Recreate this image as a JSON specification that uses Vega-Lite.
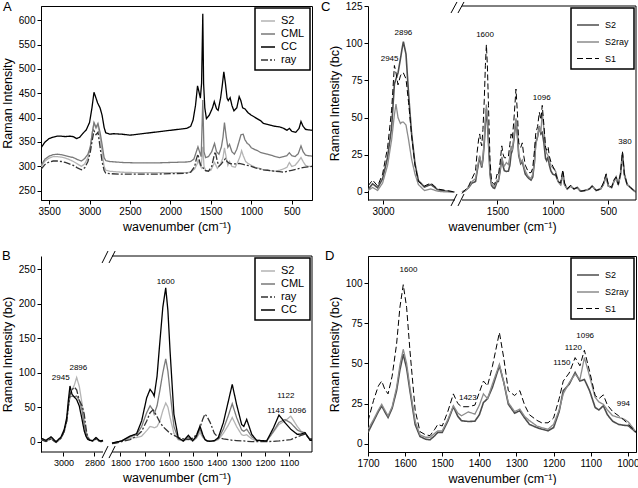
{
"$schema":"https://vega.github.io/schema/vega-lite/v6.json",
"background":"white",
"padding":{"left":0,"top":0,"right":0,"bottom":0},
"config":{
 "font":"Liberation Sans",
 "view":{"stroke":"black","strokeWidth":1},
 "axis":{"grid":false,"domainColor":"black","domainWidth":1,"tickColor":"black","tickSize":4,"labelColor":"black","labelFont":"Liberation Sans","labelFontSize":10,"labelPadding":2,"labelFlush":false,"labelOverlap":false,"titleColor":"black","titleFont":"Liberation Sans","titleFontSize":12.5,"titleFontWeight":"normal","titlePadding":4,"format":"d"},
 "legend":{"orient":"top-right","offset":2,"padding":5,"strokeColor":"black","strokeWidth":1.5,"fillColor":"white","symbolType":"stroke","labelColor":"black","rowPadding":0,"labelOffset":5},
 "title":{"fontSize":13,"fontWeight":"normal","anchor":"start","frame":"group","color":"black"}
},
"datasets":{
 "A":[
  {"s":"S2","w":3600,"v":299},{"s":"S2","w":3550,"v":311},{"s":"S2","w":3500,"v":317},{"s":"S2","w":3450,"v":320},{"s":"S2","w":3400,"v":320},{"s":"S2","w":3350,"v":319},{"s":"S2","w":3300,"v":317},{"s":"S2","w":3250,"v":314},{"s":"S2","w":3200,"v":310},{"s":"S2","w":3150,"v":305},{"s":"S2","w":3100,"v":300},{"s":"S2","w":3060,"v":305},{"s":"S2","w":3020,"v":318},{"s":"S2","w":2990,"v":340},{"s":"S2","w":2965,"v":370},{"s":"S2","w":2945,"v":388},{"s":"S2","w":2920,"v":378},{"s":"S2","w":2896,"v":385},{"s":"S2","w":2870,"v":360},{"s":"S2","w":2845,"v":330},{"s":"S2","w":2820,"v":300},{"s":"S2","w":2800,"v":292},{"s":"S2","w":2750,"v":290},{"s":"S2","w":2600,"v":288},{"s":"S2","w":2400,"v":287},{"s":"S2","w":2200,"v":287},{"s":"S2","w":2000,"v":287},{"s":"S2","w":1800,"v":287},{"s":"S2","w":1750,"v":288},{"s":"S2","w":1700,"v":295},{"s":"S2","w":1670,"v":305},{"s":"S2","w":1660,"v":312},{"s":"S2","w":1640,"v":305},{"s":"S2","w":1620,"v":298},{"s":"S2","w":1600,"v":340},{"s":"S2","w":1585,"v":300},{"s":"S2","w":1560,"v":290},{"s":"S2","w":1500,"v":292},{"s":"S2","w":1455,"v":308},{"s":"S2","w":1420,"v":296},{"s":"S2","w":1380,"v":305},{"s":"S2","w":1350,"v":318},{"s":"S2","w":1332,"v":338},{"s":"S2","w":1310,"v":318},{"s":"S2","w":1290,"v":302},{"s":"S2","w":1270,"v":310},{"s":"S2","w":1240,"v":300},{"s":"S2","w":1200,"v":298},{"s":"S2","w":1170,"v":308},{"s":"S2","w":1140,"v":320},{"s":"S2","w":1120,"v":332},{"s":"S2","w":1100,"v":322},{"s":"S2","w":1070,"v":310},{"s":"S2","w":1040,"v":306},{"s":"S2","w":1000,"v":302},{"s":"S2","w":950,"v":298},{"s":"S2","w":900,"v":296},{"s":"S2","w":850,"v":293},{"s":"S2","w":800,"v":292},{"s":"S2","w":700,"v":290},{"s":"S2","w":650,"v":292},{"s":"S2","w":600,"v":295},{"s":"S2","w":560,"v":298},{"s":"S2","w":530,"v":308},{"s":"S2","w":500,"v":300},{"s":"S2","w":460,"v":302},{"s":"S2","w":420,"v":310},{"s":"S2","w":386,"v":318},{"s":"S2","w":360,"v":310},{"s":"S2","w":330,"v":302},{"s":"S2","w":300,"v":300},{"s":"S2","w":250,"v":300},
  {"s":"CML","w":3600,"v":302},{"s":"CML","w":3550,"v":315},{"s":"CML","w":3500,"v":321},{"s":"CML","w":3450,"v":324},{"s":"CML","w":3400,"v":325},{"s":"CML","w":3350,"v":324},{"s":"CML","w":3300,"v":322},{"s":"CML","w":3250,"v":320},{"s":"CML","w":3200,"v":318},{"s":"CML","w":3150,"v":314},{"s":"CML","w":3100,"v":311},{"s":"CML","w":3060,"v":316},{"s":"CML","w":3020,"v":325},{"s":"CML","w":2990,"v":340},{"s":"CML","w":2965,"v":370},{"s":"CML","w":2945,"v":390},{"s":"CML","w":2920,"v":380},{"s":"CML","w":2896,"v":388},{"s":"CML","w":2870,"v":370},{"s":"CML","w":2845,"v":345},{"s":"CML","w":2820,"v":318},{"s":"CML","w":2800,"v":312},{"s":"CML","w":2750,"v":310},{"s":"CML","w":2600,"v":308},{"s":"CML","w":2400,"v":307},{"s":"CML","w":2200,"v":307},{"s":"CML","w":2000,"v":308},{"s":"CML","w":1800,"v":309},{"s":"CML","w":1750,"v":310},{"s":"CML","w":1710,"v":315},{"s":"CML","w":1680,"v":330},{"s":"CML","w":1660,"v":340},{"s":"CML","w":1640,"v":330},{"s":"CML","w":1620,"v":320},{"s":"CML","w":1600,"v":436},{"s":"CML","w":1585,"v":330},{"s":"CML","w":1565,"v":318},{"s":"CML","w":1530,"v":320},{"s":"CML","w":1490,"v":330},{"s":"CML","w":1455,"v":347},{"s":"CML","w":1430,"v":330},{"s":"CML","w":1400,"v":325},{"s":"CML","w":1370,"v":340},{"s":"CML","w":1350,"v":360},{"s":"CML","w":1332,"v":390},{"s":"CML","w":1310,"v":360},{"s":"CML","w":1290,"v":339},{"s":"CML","w":1270,"v":345},{"s":"CML","w":1240,"v":330},{"s":"CML","w":1210,"v":325},{"s":"CML","w":1180,"v":335},{"s":"CML","w":1150,"v":352},{"s":"CML","w":1128,"v":365},{"s":"CML","w":1100,"v":366},{"s":"CML","w":1080,"v":355},{"s":"CML","w":1050,"v":347},{"s":"CML","w":1030,"v":345},{"s":"CML","w":1000,"v":338},{"s":"CML","w":950,"v":334},{"s":"CML","w":920,"v":332},{"s":"CML","w":880,"v":328},{"s":"CML","w":800,"v":325},{"s":"CML","w":700,"v":320},{"s":"CML","w":650,"v":318},{"s":"CML","w":600,"v":320},{"s":"CML","w":560,"v":322},{"s":"CML","w":530,"v":328},{"s":"CML","w":500,"v":322},{"s":"CML","w":460,"v":320},{"s":"CML","w":420,"v":326},{"s":"CML","w":386,"v":342},{"s":"CML","w":360,"v":330},{"s":"CML","w":330,"v":323},{"s":"CML","w":300,"v":322},{"s":"CML","w":250,"v":321},
  {"s":"ray","w":3600,"v":294},{"s":"ray","w":3550,"v":304},{"s":"ray","w":3500,"v":309},{"s":"ray","w":3450,"v":311},{"s":"ray","w":3400,"v":311},{"s":"ray","w":3350,"v":310},{"s":"ray","w":3300,"v":308},{"s":"ray","w":3250,"v":305},{"s":"ray","w":3200,"v":302},{"s":"ray","w":3150,"v":297},{"s":"ray","w":3100,"v":293},{"s":"ray","w":3060,"v":297},{"s":"ray","w":3020,"v":310},{"s":"ray","w":2990,"v":330},{"s":"ray","w":2965,"v":355},{"s":"ray","w":2945,"v":373},{"s":"ray","w":2920,"v":365},{"s":"ray","w":2896,"v":370},{"s":"ray","w":2870,"v":340},{"s":"ray","w":2845,"v":310},{"s":"ray","w":2820,"v":292},{"s":"ray","w":2800,"v":286},{"s":"ray","w":2750,"v":285},{"s":"ray","w":2600,"v":284},{"s":"ray","w":2400,"v":284},{"s":"ray","w":2200,"v":284},{"s":"ray","w":2000,"v":285},{"s":"ray","w":1800,"v":286},{"s":"ray","w":1750,"v":288},{"s":"ray","w":1700,"v":300},{"s":"ray","w":1680,"v":315},{"s":"ray","w":1660,"v":325},{"s":"ray","w":1640,"v":310},{"s":"ray","w":1620,"v":300},{"s":"ray","w":1600,"v":298},{"s":"ray","w":1580,"v":292},{"s":"ray","w":1530,"v":290},{"s":"ray","w":1490,"v":300},{"s":"ray","w":1460,"v":322},{"s":"ray","w":1445,"v":330},{"s":"ray","w":1420,"v":310},{"s":"ray","w":1400,"v":300},{"s":"ray","w":1370,"v":305},{"s":"ray","w":1340,"v":312},{"s":"ray","w":1320,"v":316},{"s":"ray","w":1300,"v":310},{"s":"ray","w":1270,"v":306},{"s":"ray","w":1240,"v":305},{"s":"ray","w":1200,"v":305},{"s":"ray","w":1150,"v":306},{"s":"ray","w":1100,"v":304},{"s":"ray","w":1050,"v":302},{"s":"ray","w":1000,"v":300},{"s":"ray","w":950,"v":297},{"s":"ray","w":900,"v":295},{"s":"ray","w":850,"v":293},{"s":"ray","w":800,"v":292},{"s":"ray","w":700,"v":290},{"s":"ray","w":650,"v":289},{"s":"ray","w":600,"v":288},{"s":"ray","w":550,"v":290},{"s":"ray","w":500,"v":292},{"s":"ray","w":450,"v":294},{"s":"ray","w":400,"v":296},{"s":"ray","w":350,"v":298},{"s":"ray","w":300,"v":299},{"s":"ray","w":250,"v":300},
  {"s":"CC","w":3600,"v":338},{"s":"CC","w":3550,"v":350},{"s":"CC","w":3500,"v":357},{"s":"CC","w":3450,"v":360},{"s":"CC","w":3400,"v":362},{"s":"CC","w":3350,"v":362},{"s":"CC","w":3300,"v":361},{"s":"CC","w":3250,"v":362},{"s":"CC","w":3200,"v":361},{"s":"CC","w":3160,"v":357},{"s":"CC","w":3120,"v":360},{"s":"CC","w":3080,"v":368},{"s":"CC","w":3040,"v":375},{"s":"CC","w":3000,"v":390},{"s":"CC","w":2970,"v":420},{"s":"CC","w":2945,"v":452},{"s":"CC","w":2920,"v":440},{"s":"CC","w":2900,"v":430},{"s":"CC","w":2870,"v":420},{"s":"CC","w":2845,"v":405},{"s":"CC","w":2820,"v":380},{"s":"CC","w":2800,"v":369},{"s":"CC","w":2750,"v":366},{"s":"CC","w":2700,"v":367},{"s":"CC","w":2600,"v":366},{"s":"CC","w":2500,"v":364},{"s":"CC","w":2400,"v":366},{"s":"CC","w":2300,"v":368},{"s":"CC","w":2200,"v":370},{"s":"CC","w":2100,"v":372},{"s":"CC","w":2000,"v":374},{"s":"CC","w":1900,"v":376},{"s":"CC","w":1800,"v":378},{"s":"CC","w":1750,"v":382},{"s":"CC","w":1720,"v":395},{"s":"CC","w":1690,"v":425},{"s":"CC","w":1665,"v":465},{"s":"CC","w":1650,"v":455},{"s":"CC","w":1630,"v":440},{"s":"CC","w":1615,"v":470},{"s":"CC","w":1600,"v":613},{"s":"CC","w":1590,"v":470},{"s":"CC","w":1575,"v":420},{"s":"CC","w":1555,"v":398},{"s":"CC","w":1520,"v":405},{"s":"CC","w":1480,"v":420},{"s":"CC","w":1458,"v":433},{"s":"CC","w":1430,"v":418},{"s":"CC","w":1410,"v":415},{"s":"CC","w":1380,"v":440},{"s":"CC","w":1360,"v":465},{"s":"CC","w":1340,"v":494},{"s":"CC","w":1320,"v":470},{"s":"CC","w":1300,"v":440},{"s":"CC","w":1285,"v":435},{"s":"CC","w":1262,"v":441},{"s":"CC","w":1240,"v":425},{"s":"CC","w":1215,"v":414},{"s":"CC","w":1180,"v":420},{"s":"CC","w":1150,"v":443},{"s":"CC","w":1130,"v":435},{"s":"CC","w":1107,"v":420},{"s":"CC","w":1080,"v":418},{"s":"CC","w":1040,"v":410},{"s":"CC","w":1000,"v":405},{"s":"CC","w":950,"v":400},{"s":"CC","w":920,"v":397},{"s":"CC","w":880,"v":393},{"s":"CC","w":850,"v":388},{"s":"CC","w":800,"v":386},{"s":"CC","w":750,"v":384},{"s":"CC","w":700,"v":382},{"s":"CC","w":650,"v":381},{"s":"CC","w":600,"v":378},{"s":"CC","w":560,"v":374},{"s":"CC","w":530,"v":378},{"s":"CC","w":500,"v":372},{"s":"CC","w":450,"v":370},{"s":"CC","w":410,"v":378},{"s":"CC","w":386,"v":392},{"s":"CC","w":360,"v":382},{"s":"CC","w":330,"v":376},{"s":"CC","w":300,"v":375},{"s":"CC","w":250,"v":374}
 ],
 "B":[
  {"g":1,"w":3145,"S2":2,"CML":3,"ray":3,"CC":5},{"g":1,"w":3113,"S2":1,"CML":1,"ray":0,"CC":2},{"g":1,"w":3080,"S2":4,"CML":5,"ray":4,"CC":7},{"g":1,"w":3048,"S2":-1,"CML":-1,"ray":-1,"CC":0},{"g":1,"w":3016,"S2":5,"CML":5,"ray":5,"CC":6.7},{"g":1,"w":2995,"S2":15,"CML":15,"ray":15,"CC":17.8},{"g":1,"w":2979,"S2":30,"CML":30,"ray":30,"CC":34.7},{"g":1,"w":2969,"S2":50,"CML":50,"ray":50,"CC":59},{"g":1,"w":2958,"S2":70,"CML":65,"ray":68,"CC":80.6},{"g":1,"w":2945,"S2":75,"CML":66,"ray":75,"CC":68.6},{"g":1,"w":2930,"S2":82,"CML":65,"ray":79,"CC":64.6},{"g":1,"w":2915,"S2":93,"CML":66,"ray":75,"CC":61},{"g":1,"w":2898,"S2":80,"CML":60,"ray":60,"CC":51.7},{"g":1,"w":2880,"S2":55,"CML":45,"ray":52,"CC":32},{"g":1,"w":2866,"S2":30,"CML":25,"ray":40,"CC":15.4},{"g":1,"w":2855,"S2":15,"CML":12,"ray":20,"CC":8},{"g":1,"w":2844,"S2":8,"CML":5,"ray":6,"CC":3.4},{"g":1,"w":2830,"S2":3,"CML":2,"ray":2,"CC":2},{"g":1,"w":2812,"S2":1,"CML":1,"ray":1,"CC":1.5},{"g":1,"w":2790,"S2":4,"CML":4,"ray":4,"CC":6},{"g":1,"w":2770,"S2":1,"CML":1,"ray":1,"CC":2},{"g":1,"w":2758,"S2":0,"CML":0,"ray":0,"CC":1},{"g":1,"w":2745,"S2":1,"CML":1,"ray":1,"CC":2},
  {"g":2,"w":1835,"S2":-2,"CML":-2,"ray":-3,"CC":-2},{"g":2,"w":1818,"S2":-1,"CML":-1,"ray":-2,"CC":-0.6},{"g":2,"w":1795,"S2":1,"CML":1,"ray":0,"CC":1},{"g":2,"w":1760,"S2":5,"CML":7,"ray":3,"CC":8},{"g":2,"w":1733,"S2":6,"CML":10,"ray":8,"CC":11.5},{"g":2,"w":1712,"S2":8,"CML":22,"ray":15,"CC":30},{"g":2,"w":1691,"S2":16,"CML":42,"ray":30,"CC":63.6},{"g":2,"w":1677,"S2":22,"CML":52,"ray":42,"CC":75.8},{"g":2,"w":1665,"S2":21,"CML":46,"ray":46,"CC":70},{"g":2,"w":1660,"S2":20,"CML":40,"ray":44,"CC":66},{"g":2,"w":1648,"S2":22,"CML":52,"ray":36,"CC":95},{"g":2,"w":1636,"S2":30,"CML":75,"ray":28,"CC":146},{"g":2,"w":1624,"S2":45,"CML":100,"ray":22,"CC":195},{"g":2,"w":1612,"S2":56,"CML":120,"ray":18,"CC":223},{"g":2,"w":1603,"S2":50,"CML":102,"ray":15,"CC":190},{"g":2,"w":1594,"S2":35,"CML":72,"ray":12,"CC":131},{"g":2,"w":1578,"S2":12,"CML":22,"ray":9,"CC":39.6},{"g":2,"w":1560,"S2":3,"CML":4,"ray":6,"CC":5.7},{"g":2,"w":1539,"S2":1,"CML":1,"ray":4,"CC":1},{"g":2,"w":1518,"S2":4,"CML":6,"ray":3,"CC":9.1},{"g":2,"w":1500,"S2":1,"CML":1,"ray":5,"CC":1.5},{"g":2,"w":1485,"S2":5,"CML":6,"ray":10,"CC":8},{"g":2,"w":1470,"S2":13,"CML":18,"ray":20,"CC":22.6},{"g":2,"w":1458,"S2":6,"CML":8,"ray":33,"CC":10},{"g":2,"w":1449,"S2":3,"CML":3,"ray":40,"CC":3},{"g":2,"w":1440,"S2":1,"CML":1,"ray":36,"CC":1},{"g":2,"w":1428,"S2":0.5,"CML":0.5,"ray":28,"CC":0.5},{"g":2,"w":1410,"S2":1,"CML":1,"ray":12,"CC":1.5},{"g":2,"w":1394,"S2":3,"CML":4,"ray":6,"CC":5.7},{"g":2,"w":1373,"S2":12,"CML":18,"ray":4,"CC":27.4},{"g":2,"w":1352,"S2":24,"CML":38,"ray":3,"CC":58.8},{"g":2,"w":1336,"S2":35,"CML":55,"ray":2,"CC":83},{"g":2,"w":1318,"S2":22,"CML":35,"ray":1.5,"CC":54},{"g":2,"w":1297,"S2":10,"CML":17,"ray":1,"CC":25},{"g":2,"w":1288,"S2":9,"CML":15,"ray":1,"CC":22},{"g":2,"w":1276,"S2":10,"CML":18,"ray":0.5,"CC":32.3},{"g":2,"w":1255,"S2":4,"CML":7,"ray":0,"CC":10.6},{"g":2,"w":1235,"S2":1,"CML":2,"ray":0,"CC":2},{"g":2,"w":1193,"S2":1,"CML":1,"ray":0,"CC":1},{"g":2,"w":1165,"S2":14,"CML":15,"ray":0.5,"CC":20},{"g":2,"w":1142,"S2":25,"CML":28,"ray":1,"CC":38.6},{"g":2,"w":1117,"S2":30,"CML":32,"ray":2,"CC":27.4},{"g":2,"w":1093,"S2":37,"CML":27,"ray":3,"CC":18},{"g":2,"w":1066,"S2":22,"CML":17,"ray":7,"CC":10.6},{"g":2,"w":1050,"S2":15,"CML":14,"ray":9,"CC":11},{"g":2,"w":1034,"S2":12,"CML":13,"ray":11,"CC":13},{"g":2,"w":1013,"S2":3,"CML":3,"ray":4,"CC":2},{"g":2,"w":1005,"S2":3,"CML":3,"ray":4,"CC":2}
 ],
 "C":[
  {"g":1,"w":3075,"S2":1.5,"S2ray":1,"S1":4},{"g":1,"w":3052,"S2":5.5,"S2ray":3,"S1":8},{"g":1,"w":3027,"S2":2.8,"S2ray":1,"S1":4},{"g":1,"w":3002,"S2":8.9,"S2ray":6,"S1":12},{"g":1,"w":2977,"S2":23.3,"S2ray":18,"S1":30},{"g":1,"w":2957,"S2":43.5,"S2ray":35,"S1":55},{"g":1,"w":2943,"S2":72.5,"S2ray":52,"S1":85},{"g":1,"w":2935,"S2":76,"S2ray":59,"S1":80},{"g":1,"w":2925,"S2":80,"S2ray":50,"S1":72},{"g":1,"w":2913,"S2":89.3,"S2ray":46,"S1":78},{"g":1,"w":2905,"S2":96,"S2ray":47,"S1":80},{"g":1,"w":2898,"S2":101,"S2ray":47,"S1":80},{"g":1,"w":2885,"S2":92.6,"S2ray":45,"S1":76},{"g":1,"w":2872,"S2":65.8,"S2ray":35,"S1":60},{"g":1,"w":2857,"S2":39,"S2ray":22,"S1":38},{"g":1,"w":2840,"S2":19,"S2ray":12,"S1":18},{"g":1,"w":2823,"S2":7.7,"S2ray":5,"S1":7},{"g":1,"w":2793,"S2":3.3,"S2ray":1,"S1":4},{"g":1,"w":2760,"S2":5,"S2ray":2,"S1":6},{"g":1,"w":2727,"S2":1.5,"S2ray":0.5,"S1":2},{"g":1,"w":2685,"S2":0.6,"S2ray":0,"S1":1},{"g":1,"w":2643,"S2":0,"S2ray":0,"S1":0},
  {"g":2,"w":1820,"S2":0,"S2ray":0,"S1":-1},{"g":2,"w":1790,"S2":1,"S2ray":1,"S1":1.5},{"g":2,"w":1760,"S2":3,"S2ray":3,"S1":4},{"g":2,"w":1730,"S2":6,"S2ray":7,"S1":9},{"g":2,"w":1698,"S2":7,"S2ray":9,"S1":14},{"g":2,"w":1683,"S2":14,"S2ray":15,"S1":27},{"g":2,"w":1669,"S2":20,"S2ray":21,"S1":36},{"g":2,"w":1660,"S2":23.5,"S2ray":24.5,"S1":39},{"g":2,"w":1652,"S2":20,"S2ray":21,"S1":34},{"g":2,"w":1642,"S2":16.3,"S2ray":17.4,"S1":31},{"g":2,"w":1631,"S2":22,"S2ray":23,"S1":42},{"g":2,"w":1619,"S2":33,"S2ray":35,"S1":62},{"g":2,"w":1609,"S2":46,"S2ray":49,"S1":85},{"g":2,"w":1600,"S2":55.7,"S2ray":58.8,"S1":99},{"g":2,"w":1591,"S2":47,"S2ray":50,"S1":85},{"g":2,"w":1581,"S2":33,"S2ray":35,"S1":58},{"g":2,"w":1567,"S2":12,"S2ray":14,"S1":21},{"g":2,"w":1554,"S2":4.5,"S2ray":5.5,"S1":7.5},{"g":2,"w":1538,"S2":2.8,"S2ray":4,"S1":5.5},{"g":2,"w":1526,"S2":2.4,"S2ray":4,"S1":5},{"g":2,"w":1512,"S2":5,"S2ray":6.5,"S1":9},{"g":2,"w":1504,"S2":7,"S2ray":8,"S1":12},{"g":2,"w":1492,"S2":7,"S2ray":8,"S1":11},{"g":2,"w":1476,"S2":14,"S2ray":15,"S1":20},{"g":2,"w":1461,"S2":23,"S2ray":23.6,"S1":31},{"g":2,"w":1448,"S2":17,"S2ray":19,"S1":25},{"g":2,"w":1438,"S2":14.3,"S2ray":17.4,"S1":23},{"g":2,"w":1419,"S2":13.8,"S2ray":19.8,"S1":23},{"g":2,"w":1401,"S2":14,"S2ray":18.4,"S1":24},{"g":2,"w":1388,"S2":18,"S2ray":24,"S1":32},{"g":2,"w":1377,"S2":25.6,"S2ray":31,"S1":39},{"g":2,"w":1366,"S2":28,"S2ray":28,"S1":36},{"g":2,"w":1352,"S2":35,"S2ray":37,"S1":48},{"g":2,"w":1333,"S2":48.5,"S2ray":49.5,"S1":69.2},{"g":2,"w":1320,"S2":38,"S2ray":38,"S1":53},{"g":2,"w":1308,"S2":24.6,"S2ray":25.6,"S1":33},{"g":2,"w":1290,"S2":19,"S2ray":20,"S1":30},{"g":2,"w":1276,"S2":20.5,"S2ray":21.5,"S1":33},{"g":2,"w":1262,"S2":16,"S2ray":17,"S1":24},{"g":2,"w":1249,"S2":12,"S2ray":14.3,"S1":18},{"g":2,"w":1228,"S2":10,"S2ray":11,"S1":14.5},{"g":2,"w":1215,"S2":9,"S2ray":10,"S1":13},{"g":2,"w":1197,"S2":8,"S2ray":9,"S1":13},{"g":2,"w":1182,"S2":10,"S2ray":12,"S1":16},{"g":2,"w":1166,"S2":20,"S2ray":21,"S1":28},{"g":2,"w":1155,"S2":33,"S2ray":31,"S1":39},{"g":2,"w":1138,"S2":37,"S2ray":38,"S1":44},{"g":2,"w":1122,"S2":44.3,"S2ray":43.3,"S1":53.6},{"g":2,"w":1108,"S2":39,"S2ray":40,"S1":48.5},{"g":2,"w":1096,"S2":40,"S2ray":53.6,"S1":58.2},{"g":2,"w":1081,"S2":33,"S2ray":42,"S1":45},{"g":2,"w":1066,"S2":22.5,"S2ray":28.8,"S1":30},{"g":2,"w":1056,"S2":21,"S2ray":26,"S1":28},{"g":2,"w":1043,"S2":23.6,"S2ray":24.5,"S1":30.4},{"g":2,"w":1032,"S2":18,"S2ray":21,"S1":24},{"g":2,"w":1017,"S2":14,"S2ray":17.4,"S1":20},{"g":2,"w":1001,"S2":12,"S2ray":16.3,"S1":17.4},{"g":2,"w":987,"S2":11.5,"S2ray":15.5,"S1":15},{"g":2,"w":974,"S2":11.2,"S2ray":13.6,"S1":12.2},{"g":2,"w":960,"S2":8.5,"S2ray":9.5,"S1":9},{"g":2,"w":952,"S2":7,"S2ray":7,"S1":7},{"g":2,"w":930,"S2":5,"S2ray":5,"S1":6},{"g":2,"w":910,"S2":13,"S2ray":12,"S1":15},{"g":2,"w":895,"S2":5,"S2ray":5,"S1":6},{"g":2,"w":870,"S2":2,"S2ray":2,"S1":2},{"g":2,"w":840,"S2":4,"S2ray":4,"S1":4.5},{"g":2,"w":810,"S2":2,"S2ray":2,"S1":2},{"g":2,"w":780,"S2":3,"S2ray":3,"S1":3},{"g":2,"w":750,"S2":0.5,"S2ray":0.5,"S1":0.5},{"g":2,"w":710,"S2":1,"S2ray":1,"S1":1},{"g":2,"w":670,"S2":2,"S2ray":2,"S1":2},{"g":2,"w":645,"S2":4,"S2ray":4,"S1":4},{"g":2,"w":610,"S2":1,"S2ray":1,"S1":1},{"g":2,"w":570,"S2":2,"S2ray":2,"S1":2},{"g":2,"w":545,"S2":5,"S2ray":5,"S1":6},{"g":2,"w":520,"S2":11,"S2ray":10,"S1":12},{"g":2,"w":500,"S2":4,"S2ray":4,"S1":5},{"g":2,"w":470,"S2":3,"S2ray":3,"S1":3},{"g":2,"w":450,"S2":7,"S2ray":7,"S1":8},{"g":2,"w":430,"S2":10,"S2ray":9,"S1":10},{"g":2,"w":410,"S2":5,"S2ray":5,"S1":5},{"g":2,"w":390,"S2":12,"S2ray":11,"S1":12},{"g":2,"w":372,"S2":26,"S2ray":25,"S1":27},{"g":2,"w":355,"S2":12,"S2ray":11,"S1":12},{"g":2,"w":330,"S2":5,"S2ray":5,"S1":5},{"g":2,"w":300,"S2":3,"S2ray":3,"S1":3},{"g":2,"w":270,"S2":1,"S2ray":1,"S1":1},{"g":2,"w":252,"S2":0,"S2ray":0,"S1":0}
 ],
 "D":[
  {"w":1700,"S2":7,"S2ray":9,"S1":14},{"w":1685,"S2":14,"S2ray":15,"S1":27},{"w":1672,"S2":20,"S2ray":21,"S1":36},{"w":1663,"S2":23.5,"S2ray":24.5,"S1":39},{"w":1655,"S2":20,"S2ray":21,"S1":34},{"w":1646,"S2":16.3,"S2ray":17.4,"S1":31},{"w":1635,"S2":22,"S2ray":23,"S1":42},{"w":1623,"S2":33,"S2ray":35,"S1":62},{"w":1614,"S2":46,"S2ray":49,"S1":85},{"w":1605,"S2":55.7,"S2ray":58.8,"S1":99},{"w":1596,"S2":47,"S2ray":50,"S1":85},{"w":1587,"S2":33,"S2ray":35,"S1":58},{"w":1573,"S2":12,"S2ray":14,"S1":21},{"w":1560,"S2":4.5,"S2ray":5.5,"S1":7.5},{"w":1545,"S2":2.8,"S2ray":4,"S1":5.5},{"w":1533,"S2":2.4,"S2ray":4,"S1":5},{"w":1520,"S2":5,"S2ray":6.5,"S1":9},{"w":1512,"S2":7,"S2ray":8,"S1":12},{"w":1500,"S2":7,"S2ray":8,"S1":11},{"w":1485,"S2":14,"S2ray":15,"S1":20},{"w":1470,"S2":23,"S2ray":23.6,"S1":31},{"w":1458,"S2":17,"S2ray":19,"S1":25},{"w":1448,"S2":14.3,"S2ray":17.4,"S1":23},{"w":1430,"S2":13.8,"S2ray":19.8,"S1":23},{"w":1412,"S2":14,"S2ray":18.4,"S1":24},{"w":1400,"S2":18,"S2ray":24,"S1":32},{"w":1389,"S2":25.6,"S2ray":31,"S1":39},{"w":1378,"S2":28,"S2ray":28,"S1":36},{"w":1365,"S2":35,"S2ray":37,"S1":48},{"w":1346,"S2":48.5,"S2ray":49.5,"S1":69.2},{"w":1334,"S2":38,"S2ray":38,"S1":53},{"w":1322,"S2":24.6,"S2ray":25.6,"S1":33},{"w":1305,"S2":19,"S2ray":20,"S1":30},{"w":1291,"S2":20.5,"S2ray":21.5,"S1":33},{"w":1278,"S2":16,"S2ray":17,"S1":24},{"w":1265,"S2":12,"S2ray":14.3,"S1":18},{"w":1245,"S2":10,"S2ray":11,"S1":14.5},{"w":1232,"S2":9,"S2ray":10,"S1":13},{"w":1215,"S2":8,"S2ray":9,"S1":13},{"w":1200,"S2":10,"S2ray":12,"S1":16},{"w":1185,"S2":20,"S2ray":21,"S1":28},{"w":1174,"S2":33,"S2ray":31,"S1":39},{"w":1158,"S2":37,"S2ray":38,"S1":44},{"w":1142,"S2":44.3,"S2ray":43.3,"S1":53.6},{"w":1129,"S2":39,"S2ray":40,"S1":48.5},{"w":1117,"S2":40,"S2ray":53.6,"S1":58.2},{"w":1103,"S2":33,"S2ray":42,"S1":45},{"w":1088,"S2":22.5,"S2ray":28.8,"S1":30},{"w":1078,"S2":21,"S2ray":26,"S1":28},{"w":1066,"S2":23.6,"S2ray":24.5,"S1":30.4},{"w":1055,"S2":18,"S2ray":21,"S1":24},{"w":1041,"S2":14,"S2ray":17.4,"S1":20},{"w":1025,"S2":12,"S2ray":16.3,"S1":17.4},{"w":1012,"S2":11.5,"S2ray":15.5,"S1":15},{"w":999,"S2":11.2,"S2ray":13.6,"S1":12.2},{"w":985,"S2":8.5,"S2ray":9.5,"S1":9},{"w":978,"S2":7,"S2ray":7,"S1":7}
 ],
 "annB":[{"w":3018,"v":92.6,"t":"2945"},{"w":2904,"v":107,"t":"2896"},{"w":1612,"v":231.8,"t":"1600"},{"w":1114,"v":66,"t":"1122"},{"w":1155,"v":44,"t":"1143"},{"w":1066,"v":44,"t":"1096"}],
 "annC":[{"w":2967,"v":89.3,"t":"2945"},{"w":2898,"v":107,"t":"2896"},{"w":1612,"v":105.4,"t":"1600"},{"w":1101,"v":63,"t":"1096"},{"w":349,"v":33.4,"t":"380"}],
 "annD":[{"w":1591,"v":108,"t":"1600"},{"w":1431,"v":28.7,"t":"1423"},{"w":1178,"v":50.5,"t":"1150"},{"w":1147,"v":59.8,"t":"1120"},{"w":1115,"v":67,"t":"1096"},{"w":1012,"v":25,"t":"994"}]
},
"columns":2,
"spacing":{"row":56,"column":56},
"bounds":"flush",
"resolve":{"scale":{"x":"independent","y":"independent","color":"independent","strokeDash":"independent","strokeWidth":"independent"},"legend":{"color":"independent","strokeDash":"independent","strokeWidth":"independent"}},
"concat":[
 {
  "title":{"text":"A","dx":-38,"offset":-8},
  "width":271,"height":194,
  "data":{"name":"A"},
  "mark":{"type":"line","clip":true},
  "encoding":{
   "x":{"field":"w","type":"quantitative","scale":{"domain":[3600,250],"nice":false,"zero":false},"axis":{"values":[3500,3000,2500,2000,1500,1000,500],"title":"wavenumber (cm⁻¹)"}},
   "y":{"field":"v","type":"quantitative","scale":{"domain":[231,629],"nice":false,"zero":false},"axis":{"values":[250,300,350,400,450,500,550,600],"title":"Raman Intensity"}},
   "color":{"field":"s","type":"nominal","scale":{"domain":["S2","CML","CC","ray"],"range":["#b4b4b4","#7a7a7a","#000000","#333333"]},"legend":{"title":null,"symbolSize":196,"labelFontSize":11}},
   "strokeDash":{"field":"s","type":"nominal","scale":{"domain":["S2","CML","CC","ray"],"range":[[1,0],[1,0],[1,0],[7,2,2,2]]},"legend":{"title":null,"symbolSize":196,"labelFontSize":11}},
   "strokeWidth":{"field":"s","type":"nominal","scale":{"domain":["S2","CML","CC","ray"],"range":[1.3,1.3,1.5,1.2]},"legend":{"title":null,"symbolSize":196,"labelFontSize":11}}
  }
 },
 {
  "title":{"text":"C","dx":-47,"offset":-13},
  "width":268,"height":194,
  "view":{"stroke":null},
  "layer":[
   {"data":{"name":"C"},"transform":[{"fold":["S2","S2ray","S1"],"as":["s","v"]}],
    "mark":{"type":"line","clip":true},
    "encoding":{
     "x":{"field":"w","type":"quantitative","scale":{"domain":[3075,2640,1820,250],"range":[0,87,94,268],"nice":false,"zero":false},"axis":{"values":[3000,1500,1000,500],"title":"wavenumber (cm⁻¹)","domain":false}},
     "y":{"field":"v","type":"quantitative","scale":{"domain":[-5.4,125],"nice":false,"zero":false},"axis":{"values":[0,25,50,75,100,125],"title":"Raman Intensity (bc)"}},
     "detail":{"field":"g","type":"nominal"},
     "color":{"field":"s","type":"nominal","scale":{"domain":["S2","S2ray","S1"],"range":["#4d4d4d","#8c8c8c","#000000"]},"legend":{"title":null,"symbolSize":484,"labelFontSize":9}},
     "strokeDash":{"field":"s","type":"nominal","scale":{"domain":["S2","S2ray","S1"],"range":[[1,0],[1,0],[6,3]]},"legend":{"title":null,"symbolSize":484,"labelFontSize":9}},
     "strokeWidth":{"field":"s","type":"nominal","scale":{"domain":["S2","S2ray","S1"],"range":[1.6,1,1.3]},"legend":{"title":null,"symbolSize":484,"labelFontSize":9}}
    }},
   {"data":{"name":"annC"},"mark":{"type":"text","fontSize":8,"color":"black","align":"center","baseline":"middle"},"encoding":{"x":{"field":"w","type":"quantitative","axis":{"values":[3000,1500,1000,500],"title":"wavenumber (cm⁻¹)","domain":false}},"y":{"field":"v","type":"quantitative","axis":{"values":[0,25,50,75,100,125],"title":"Raman Intensity (bc)"}},"text":{"field":"t"}}},
   {"data":{"values":[{}]},"mark":{"type":"rule","color":"black","strokeWidth":1},"encoding":{"x":{"datum":3075,"axis":{"values":[3000,1500,1000,500],"title":"wavenumber (cm⁻¹)","domain":false}},"x2":{"datum":2640},"y":{"datum":-5.4,"axis":{"values":[0,25,50,75,100,125],"title":"Raman Intensity (bc)"}}}},
   {"data":{"values":[{}]},"mark":{"type":"rule","color":"black","strokeWidth":1},"encoding":{"x":{"datum":1820,"axis":{"values":[3000,1500,1000,500],"title":"wavenumber (cm⁻¹)","domain":false}},"x2":{"datum":250},"y":{"datum":-5.4,"axis":{"values":[0,25,50,75,100,125],"title":"Raman Intensity (bc)"}}}},
   {"data":{"values":[{}]},"mark":{"type":"rule","color":"black","strokeWidth":1},"encoding":{"x":{"datum":1820,"axis":{"values":[3000,1500,1000,500],"title":"wavenumber (cm⁻¹)","domain":false}},"x2":{"datum":250},"y":{"datum":125,"axis":{"values":[0,25,50,75,100,125],"title":"Raman Intensity (bc)"}}}},
   {"data":{"values":[{}]},"mark":{"type":"rule","color":"black","strokeWidth":1},"encoding":{"x":{"datum":250,"axis":{"values":[3000,1500,1000,500],"title":"wavenumber (cm⁻¹)","domain":false}},"y":{"datum":-5.4,"axis":{"values":[0,25,50,75,100,125],"title":"Raman Intensity (bc)"}},"y2":{"datum":125}}},
   {"data":{"values":[{}]},"mark":{"type":"rule","color":"black","strokeWidth":1},"encoding":{"x":{"datum":2660,"axis":{"values":[3000,1500,1000,500],"title":"wavenumber (cm⁻¹)","domain":false}},"x2":{"datum":2406},"y":{"datum":120.3,"axis":{"values":[0,25,50,75,100,125],"title":"Raman Intensity (bc)"}},"y2":{"datum":127.7}}},
   {"data":{"values":[{}]},"mark":{"type":"rule","color":"black","strokeWidth":1},"encoding":{"x":{"datum":2289,"axis":{"values":[3000,1500,1000,500],"title":"wavenumber (cm⁻¹)","domain":false}},"x2":{"datum":1802},"y":{"datum":120.3,"axis":{"values":[0,25,50,75,100,125],"title":"Raman Intensity (bc)"}},"y2":{"datum":127.7}}},
   {"data":{"values":[{}]},"mark":{"type":"rule","color":"black","strokeWidth":1},"encoding":{"x":{"datum":2660,"axis":{"values":[3000,1500,1000,500],"title":"wavenumber (cm⁻¹)","domain":false}},"x2":{"datum":2406},"y":{"datum":-9.4,"axis":{"values":[0,25,50,75,100,125],"title":"Raman Intensity (bc)"}},"y2":{"datum":-1.4}}},
   {"data":{"values":[{}]},"mark":{"type":"rule","color":"black","strokeWidth":1},"encoding":{"x":{"datum":2289,"axis":{"values":[3000,1500,1000,500],"title":"wavenumber (cm⁻¹)","domain":false}},"x2":{"datum":1802},"y":{"datum":-9.4,"axis":{"values":[0,25,50,75,100,125],"title":"Raman Intensity (bc)"}},"y2":{"datum":-1.4}}}
  ]
 },
 {
  "title":{"text":"B","dx":-39,"offset":-12},
  "width":271,"height":196,
  "view":{"stroke":null},
  "layer":[
   {"data":{"name":"B"},"transform":[{"fold":["S2","CML","ray","CC"],"as":["s","v"]}],
    "mark":{"type":"line","clip":true},
    "encoding":{
     "x":{"field":"w","type":"quantitative","scale":{"domain":[3145,2745,1835,1005],"range":[0,62,71,271],"nice":false,"zero":false},"axis":{"values":[3000,2800,1800,1700,1600,1500,1400,1300,1200,1100],"title":"wavenumber (cm⁻¹)","domain":false,"labelFontSize":9}},
     "y":{"field":"v","type":"quantitative","scale":{"domain":[-15,269],"nice":false,"zero":false},"axis":{"values":[0,50,100,150,200,250],"title":"Raman Intensity (bc)"}},
     "detail":{"field":"g","type":"nominal"},
     "color":{"field":"s","type":"nominal","scale":{"domain":["S2","CML","ray","CC"],"range":["#b4b4b4","#7a7a7a","#333333","#000000"]},"legend":{"title":null,"symbolSize":196,"labelFontSize":11}},
     "strokeDash":{"field":"s","type":"nominal","scale":{"domain":["S2","CML","ray","CC"],"range":[[1,0],[1,0],[7,2,2,2],[1,0]]},"legend":{"title":null,"symbolSize":196,"labelFontSize":11}},
     "strokeWidth":{"field":"s","type":"nominal","scale":{"domain":["S2","CML","ray","CC"],"range":[1.3,1.3,1.2,1.6]},"legend":{"title":null,"symbolSize":196,"labelFontSize":11}}
    }},
   {"data":{"name":"annB"},"mark":{"type":"text","fontSize":8,"color":"black","align":"center","baseline":"middle"},"encoding":{"x":{"field":"w","type":"quantitative","axis":{"values":[3000,2800,1800,1700,1600,1500,1400,1300,1200,1100],"title":"wavenumber (cm⁻¹)","domain":false,"labelFontSize":9}},"y":{"field":"v","type":"quantitative","axis":{"values":[0,50,100,150,200,250],"title":"Raman Intensity (bc)"}},"text":{"field":"t"}}},
   {"data":{"values":[{}]},"mark":{"type":"rule","color":"black","strokeWidth":1},"encoding":{"x":{"datum":3145,"axis":{"values":[3000,2800,1800,1700,1600,1500,1400,1300,1200,1100],"title":"wavenumber (cm⁻¹)","domain":false,"labelFontSize":9}},"x2":{"datum":2745},"y":{"datum":-15,"axis":{"values":[0,50,100,150,200,250],"title":"Raman Intensity (bc)"}}}},
   {"data":{"values":[{}]},"mark":{"type":"rule","color":"black","strokeWidth":1},"encoding":{"x":{"datum":1835,"axis":{"values":[3000,2800,1800,1700,1600,1500,1400,1300,1200,1100],"title":"wavenumber (cm⁻¹)","domain":false,"labelFontSize":9}},"x2":{"datum":1005},"y":{"datum":-15,"axis":{"values":[0,50,100,150,200,250],"title":"Raman Intensity (bc)"}}}},
   {"data":{"values":[{}]},"mark":{"type":"rule","color":"black","strokeWidth":1},"encoding":{"x":{"datum":1835,"axis":{"values":[3000,2800,1800,1700,1600,1500,1400,1300,1200,1100],"title":"wavenumber (cm⁻¹)","domain":false,"labelFontSize":9}},"x2":{"datum":1005},"y":{"datum":269,"axis":{"values":[0,50,100,150,200,250],"title":"Raman Intensity (bc)"}}}},
   {"data":{"values":[{}]},"mark":{"type":"rule","color":"black","strokeWidth":1},"encoding":{"x":{"datum":1005,"axis":{"values":[3000,2800,1800,1700,1600,1500,1400,1300,1200,1100],"title":"wavenumber (cm⁻¹)","domain":false,"labelFontSize":9}},"y":{"datum":-15,"axis":{"values":[0,50,100,150,200,250],"title":"Raman Intensity (bc)"}},"y2":{"datum":269}}},
   {"data":{"values":[{}]},"mark":{"type":"rule","color":"black","strokeWidth":1},"encoding":{"x":{"datum":2751,"axis":{"values":[3000,2800,1800,1700,1600,1500,1400,1300,1200,1100],"title":"wavenumber (cm⁻¹)","domain":false,"labelFontSize":9}},"x2":{"datum":2239},"y":{"datum":258.9,"axis":{"values":[0,50,100,150,200,250],"title":"Raman Intensity (bc)"}},"y2":{"datum":276.2}}},
   {"data":{"values":[{}]},"mark":{"type":"rule","color":"black","strokeWidth":1},"encoding":{"x":{"datum":2138,"axis":{"values":[3000,2800,1800,1700,1600,1500,1400,1300,1200,1100],"title":"wavenumber (cm⁻¹)","domain":false,"labelFontSize":9}},"x2":{"datum":1822},"y":{"datum":258.9,"axis":{"values":[0,50,100,150,200,250],"title":"Raman Intensity (bc)"}},"y2":{"datum":276.2}}},
   {"data":{"values":[{}]},"mark":{"type":"rule","color":"black","strokeWidth":1},"encoding":{"x":{"datum":2751,"axis":{"values":[3000,2800,1800,1700,1600,1500,1400,1300,1200,1100],"title":"wavenumber (cm⁻¹)","domain":false,"labelFontSize":9}},"x2":{"datum":2239},"y":{"datum":-23.8,"axis":{"values":[0,50,100,150,200,250],"title":"Raman Intensity (bc)"}},"y2":{"datum":-6.4}}},
   {"data":{"values":[{}]},"mark":{"type":"rule","color":"black","strokeWidth":1},"encoding":{"x":{"datum":2138,"axis":{"values":[3000,2800,1800,1700,1600,1500,1400,1300,1200,1100],"title":"wavenumber (cm⁻¹)","domain":false,"labelFontSize":9}},"x2":{"datum":1822},"y":{"datum":-23.8,"axis":{"values":[0,50,100,150,200,250],"title":"Raman Intensity (bc)"}},"y2":{"datum":-6.4}}}
  ]
 },
 {
  "title":{"text":"D","dx":-43,"offset":-7},
  "width":268,"height":196,
  "layer":[
   {"data":{"name":"D"},"transform":[{"fold":["S2","S2ray","S1"],"as":["s","v"]}],
    "mark":{"type":"line","clip":true},
    "encoding":{
     "x":{"field":"w","type":"quantitative","scale":{"domain":[1700,978],"nice":false,"zero":false},"axis":{"values":[1700,1600,1500,1400,1300,1200,1100,1000],"title":"wavenumber (cm⁻¹)"}},
     "y":{"field":"v","type":"quantitative","scale":{"domain":[-5.2,116.9],"nice":false,"zero":false},"axis":{"values":[0,25,50,75,100],"title":"Raman Intensity (bc)"}},
     "color":{"field":"s","type":"nominal","scale":{"domain":["S2","S2ray","S1"],"range":["#4d4d4d","#8c8c8c","#000000"]},"legend":{"title":null,"symbolSize":484,"labelFontSize":9}},
     "strokeDash":{"field":"s","type":"nominal","scale":{"domain":["S2","S2ray","S1"],"range":[[1,0],[1,0],[6,3]]},"legend":{"title":null,"symbolSize":484,"labelFontSize":9}},
     "strokeWidth":{"field":"s","type":"nominal","scale":{"domain":["S2","S2ray","S1"],"range":[1.6,1,1.3]},"legend":{"title":null,"symbolSize":484,"labelFontSize":9}}
    }},
   {"data":{"name":"annD"},"mark":{"type":"text","fontSize":8,"color":"black","align":"center","baseline":"middle"},"encoding":{"x":{"field":"w","type":"quantitative","axis":{"values":[1700,1600,1500,1400,1300,1200,1100,1000],"title":"wavenumber (cm⁻¹)"}},"y":{"field":"v","type":"quantitative","axis":{"values":[0,25,50,75,100],"title":"Raman Intensity (bc)"}},"text":{"field":"t"}}}
  ]
 }
]
}
